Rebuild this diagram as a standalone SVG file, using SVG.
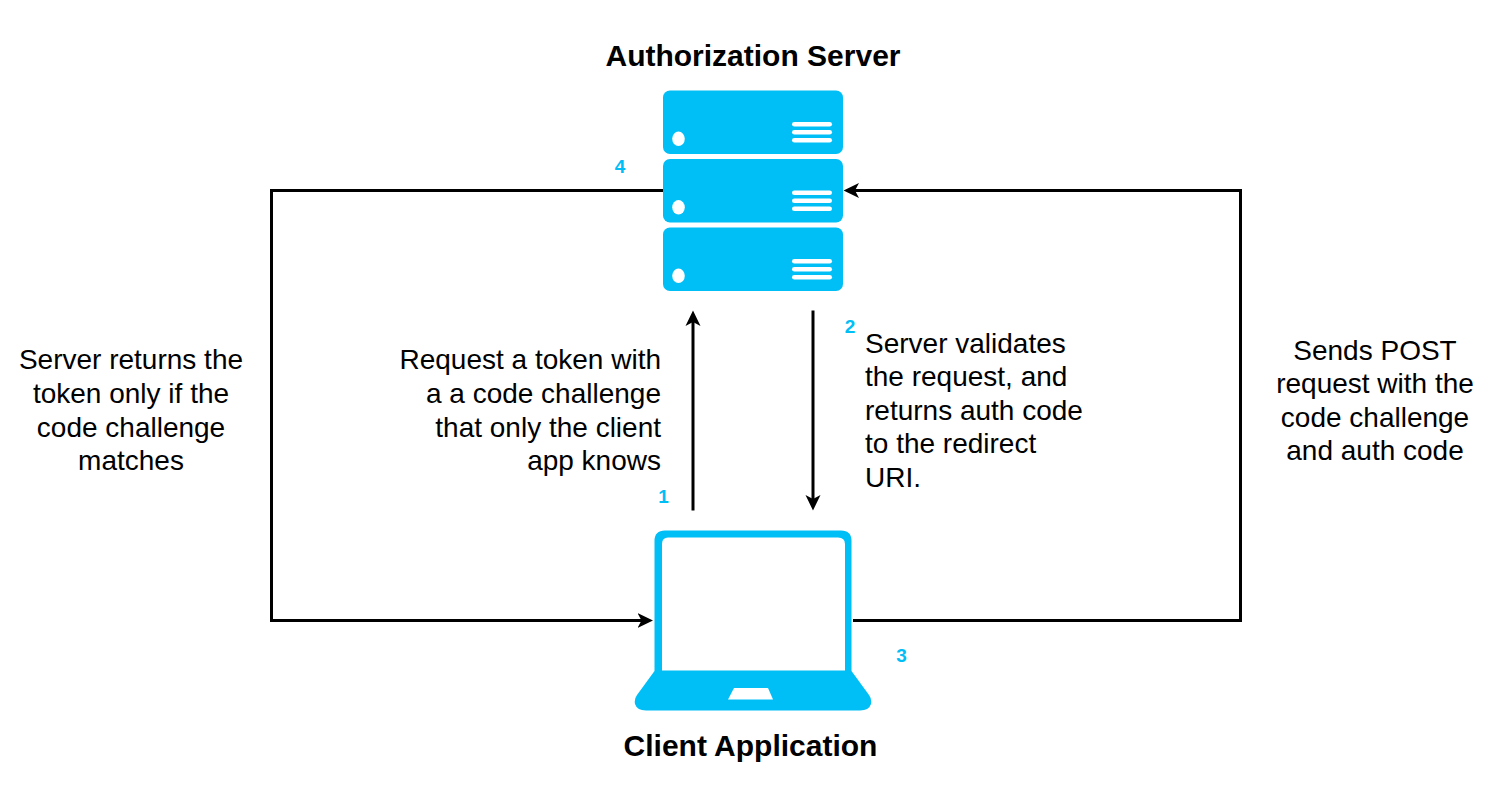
<svg xmlns="http://www.w3.org/2000/svg" width="1500" height="800" viewBox="0 0 1500 800">
<style>
text{font-family:"Liberation Sans",Arial,sans-serif;fill:#000}
.t{font-size:28px;text-anchor:middle}
.e{text-anchor:end}
.s{text-anchor:start}
.h{font-size:30px;font-weight:bold;text-anchor:middle}
.n{font-size:19px;font-weight:bold;fill:#00BEF6;text-anchor:middle}
.c{fill:none;stroke:#000;stroke-width:3}
.b{fill:#00BEF6}
.w{fill:#fff}
</style>
<defs>
<marker id="a" markerUnits="userSpaceOnUse" markerWidth="18" markerHeight="18" refX="9" refY="9" orient="auto"><path d="M0 1.500L15.500 9L0 16.500L4 9Z" fill="#000"/></marker>
<g id="unit">
<rect x="663" y="90.500" width="180" height="63.500" rx="7" class="b"/>
<ellipse cx="678.500" cy="138.800" rx="6.300" ry="7.300" class="w"/>
<rect x="792" y="122" width="40" height="4.600" rx="2.300" class="w"/>
<rect x="792" y="130" width="40" height="4.600" rx="2.300" class="w"/>
<rect x="792" y="138" width="40" height="4.600" rx="2.300" class="w"/>
</g>
</defs>
<g id="connectors">
<path class="c" d="M663 190.500H271.500V620.500H646.500" marker-end="url(#a)"/>
<path class="c" d="M853 620.500H1240.500V190.500H850" marker-end="url(#a)"/>
<path class="c" d="M693 510.500V317" marker-end="url(#a)"/>
<path class="c" d="M813 310.500V504" marker-end="url(#a)"/>
</g>
<g id="server">
<use href="#unit"/>
<use href="#unit" y="68.500"/>
<use href="#unit" y="137"/>
<text class="h" x="753" y="65.500">Authorization Server</text>
</g>
<g id="client">
<path class="b" fill-rule="evenodd" d="M665 530.500H841Q851.500 530.500 851.500 541V671L869 695Q872 699 871 704Q869 710.500 860 710.500H646Q637 710.500 635 704Q634 699 637 695L654.500 671V541Q654.500 530.500 665 530.500ZM668 537.500Q662 537.500 662 544V670.500H845V544Q845 537.500 838 537.500Z"/>
<path class="w" d="M734 688H768L773 699.500H728Z"/>
<text class="h" x="750.500" y="756">Client Application</text>
</g>
<g id="label-1">
<text class="n" x="663.500" y="503">1</text>
<text class="t e" x="661" y="369">Request a token with</text>
<text class="t e" x="661" y="402.500">a a code challenge</text>
<text class="t e" x="661" y="436.500">that only the client</text>
<text class="t e" x="661" y="470">app knows</text>
</g>
<g id="label-2">
<text class="n" x="850" y="333">2</text>
<text class="t s" x="865" y="353">Server validates</text>
<text class="t s" x="865" y="386">the request, and</text>
<text class="t s" x="865" y="419.500">returns auth code</text>
<text class="t s" x="865" y="453">to the redirect</text>
<text class="t s" x="865" y="486.500">URI.</text>
</g>
<g id="label-3">
<text class="n" x="901.500" y="662">3</text>
<text class="t" x="1375" y="359.500">Sends POST</text>
<text class="t" x="1375" y="393">request with the</text>
<text class="t" x="1375" y="426.500">code challenge</text>
<text class="t" x="1375" y="460">and auth code</text>
</g>
<g id="label-4">
<text class="n" x="620" y="173">4</text>
<text class="t" x="131" y="369">Server returns the</text>
<text class="t" x="131" y="402.500">token only if the</text>
<text class="t" x="131" y="436.500">code challenge</text>
<text class="t" x="131" y="470">matches</text>
</g>
</svg>
